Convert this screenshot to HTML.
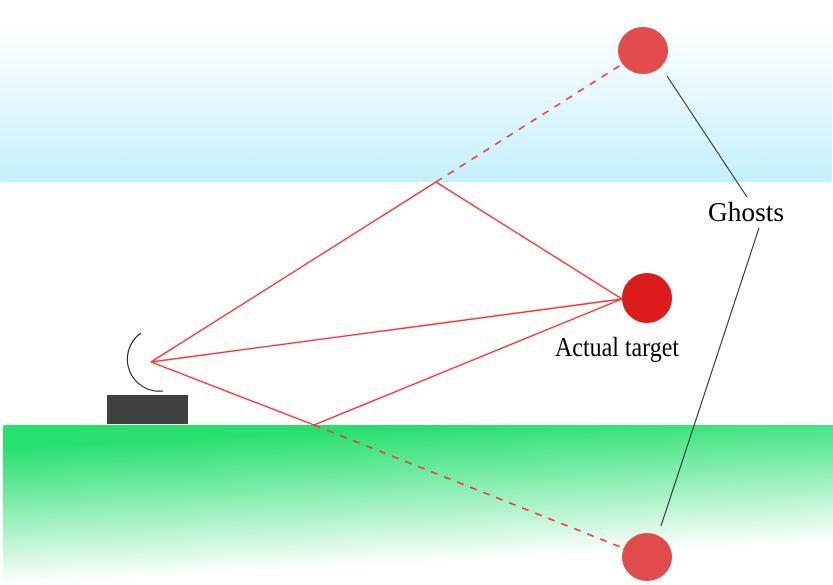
<!DOCTYPE html>
<html>
<head>
<meta charset="utf-8">
<style>
  html, body { margin:0; padding:0; background:#ffffff; }
  body { width:833px; height:585px; overflow:hidden; }
  svg { display:block; }
  text { font-family: "Liberation Serif", "DejaVu Serif", serif; fill:#000; }
</style>
</head>
<body>
<svg width="833" height="585" viewBox="0 0 833 585" xmlns="http://www.w3.org/2000/svg">
  <defs>
    <linearGradient id="sky" x1="0" y1="0" x2="0" y2="1">
      <stop offset="0" stop-color="#ffffff"/>
      <stop offset="0.14" stop-color="#ffffff"/>
      <stop offset="1" stop-color="#c4f0fd"/>
    </linearGradient>
    <linearGradient id="ground" gradientUnits="userSpaceOnUse" x1="0" y1="430" x2="8" y2="585">
      <stop offset="0" stop-color="#26e06f"/>
      <stop offset="0.12" stop-color="#28e070"/>
      <stop offset="1" stop-color="#ffffff"/>
    </linearGradient>
  </defs>

  <!-- sky band -->
  <rect x="0" y="0" width="832" height="182" rx="2" fill="url(#sky)"/>
  <!-- ground band -->
  <rect x="3" y="425" width="832" height="158" rx="2" fill="url(#ground)"/>

  <!-- device -->
  <rect x="107" y="395" width="81" height="29" fill="#404040"/>
  <path d="M141,333 A32,32 0 0 0 163,391" fill="none" stroke="#222" stroke-width="1.1"/>

  <!-- red rays -->
  <g stroke="#ff3333" stroke-width="1.4" fill="none">
    <polyline points="151,362 436,182 622,299"/>
    <line x1="151" y1="362" x2="622" y2="299"/>
    <polyline points="151,362 314,425 622,299"/>
  </g>
  <g stroke="#ff3333" stroke-width="1.6" fill="none" stroke-dasharray="7,7">
    <line x1="436" y1="182" x2="624" y2="63"/>
    <line x1="314" y1="425" x2="623" y2="548"/>
  </g>

  <!-- targets -->
  <ellipse cx="643" cy="50.5" rx="25" ry="23.5" fill="#e34c4c"/>
  <ellipse cx="647" cy="557" rx="25" ry="24" fill="#e24b4b"/>
  <circle cx="647" cy="298" r="25" fill="#dd1b1b"/>

  <!-- ghost connectors -->
  <g stroke="#333" stroke-width="1.1">
    <line x1="667" y1="76" x2="747" y2="197"/>
    <line x1="759" y1="228" x2="661" y2="526"/>
  </g>

  <!-- labels -->
  <text x="708" y="221" font-size="27" textLength="76" lengthAdjust="spacingAndGlyphs">Ghosts</text>
  <text x="555" y="356" font-size="27" textLength="124" lengthAdjust="spacingAndGlyphs">Actual target</text>
</svg>
</body>
</html>
